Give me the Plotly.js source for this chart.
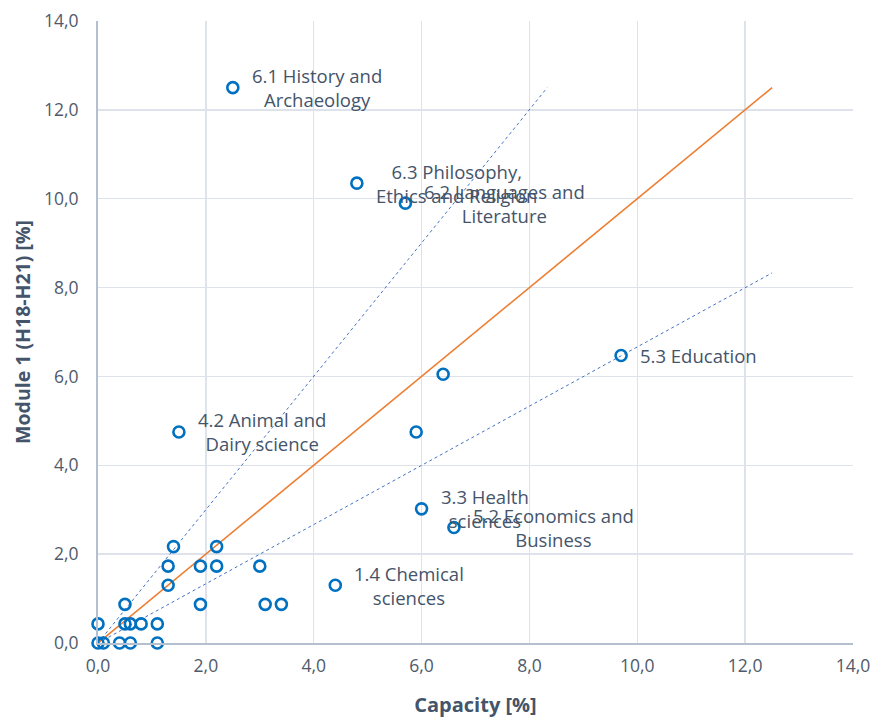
<!DOCTYPE html>
<html>
<head>
<meta charset="utf-8">
<script src="https://cdn.plot.ly/plotly-3.0.1.min.js"></script>
<style>html,body{margin:0;padding:0;background:#fff;}#chart{width:876px;height:718px;}</style>
</head>
<body>
<div id="chart"></div>
<script>
// Fields of science: capacity vs Module 1 share
const capacity = [2.5, 4.8, 5.7, 9.7, 6.4, 5.9, 1.5, 6.0, 6.6, 4.4,
                  1.4, 2.2, 1.3, 1.9, 2.2, 3.0, 1.3, 0.5, 1.9, 3.1, 3.4,
                  0.0, 0.5, 0.6, 0.8, 1.1, 0.0, 0.1, 0.4, 0.6, 1.1];
const module1 = [12.5, 10.35, 9.9, 6.47, 6.05, 4.75, 4.75, 3.02, 2.6, 1.3,
                 2.17, 2.17, 1.73, 1.73, 1.73, 1.73, 1.3, 0.87, 0.87, 0.87, 0.87,
                 0.43, 0.43, 0.43, 0.43, 0.43, 0.0, 0.0, 0.0, 0.0, 0.0];
const pointLabels = ["6.1 History and<br>Archaeology", "6.3 Philosophy,<br>Ethics and Religion",
                     "6.2 Languages and<br>Literature", "5.3 Education", "", "",
                     "4.2 Animal and<br>Dairy science", "3.3 Health<br>sciences",
                     "5.2 Economics and<br>Business", "1.4 Chemical<br>sciences"];
// Reference lines: parity (y = x), upper (y = 1.5x), lower (y = x/1.5)
const parityX = [0, 12.5], parityY = [0, 12.5];
const upperX = [0, 8.33], upperY = [0, 12.5];
const lowerX = [0, 12.5], lowerY = [0, 8.33];
const xTicks = [0, 2, 4, 6, 8, 10, 12, 14];
const yTicks = [0, 2, 4, 6, 8, 10, 12, 14];

const textColor = '#44546A';
const tickColor = '#505a6c';
const font = 'Open Sans, Noto Sans, sans-serif';

const traces = [
  {x: upperX, y: upperY, mode: 'lines', line: {color: '#4472C4', width: 1, dash: '3px,3px'}, hoverinfo: 'skip'},
  {x: lowerX, y: lowerY, mode: 'lines', line: {color: '#4472C4', width: 1, dash: '3px,3px'}, hoverinfo: 'skip'},
  {x: parityX, y: parityY, mode: 'lines', line: {color: '#ED7D31', width: 1.6}, hoverinfo: 'skip'},
  {x: capacity, y: module1, mode: 'markers', cliponaxis: false,
   marker: {symbol: 'circle-open', size: 11, color: '#0070C0', line: {width: 2.6, color: '#0070C0'}}}
];

const annotations = [];
pointLabels.forEach((t, i) => {
  if (!t) return;
  annotations.push({x: capacity[i], y: module1[i], xref: 'x', yref: 'y', text: t,
    showarrow: false, xanchor: 'left', yanchor: 'middle', align: 'center', xshift: 17,
    font: {family: font, size: 18.5, color: textColor}});
});

const layout = {
  width: 876, height: 718,
  margin: {l: 98, r: 23, t: 21, b: 75},
  paper_bgcolor: '#ffffff', plot_bgcolor: '#ffffff',
  showlegend: false,
  separators: ',.',
  font: {family: font, color: tickColor},
  xaxis: {range: [0, 14], tickvals: xTicks, tickformat: '.1f',
          showgrid: true, gridcolor: '#DEE3EB', gridwidth: 1.3,
          showline: true, linecolor: '#B4BFD0', linewidth: 2,
          zeroline: false, ticks: '', ticklabelstandoff: 6,
          tickfont: {family: font, size: 17.5, color: tickColor},
          title: {text: '<b>Capacity [%]</b>', font: {family: font, size: 20, color: textColor}, standoff: 22}},
  yaxis: {range: [0, 14], tickvals: yTicks, tickformat: '.1f',
          showgrid: true, gridcolor: '#DEE3EB', gridwidth: 1.3,
          showline: true, linecolor: '#B4BFD0', linewidth: 2,
          zeroline: false, ticks: '', ticklabelstandoff: 14,
          tickfont: {family: font, size: 17.5, color: tickColor},
          title: {text: '<b>Module 1 (H18-H21) [%]</b>', font: {family: font, size: 19.5, color: textColor}, standoff: 8}},
  annotations: annotations
};

Plotly.newPlot('chart', traces, layout, {displayModeBar: false, staticPlot: true});
</script>
</body>
</html>
